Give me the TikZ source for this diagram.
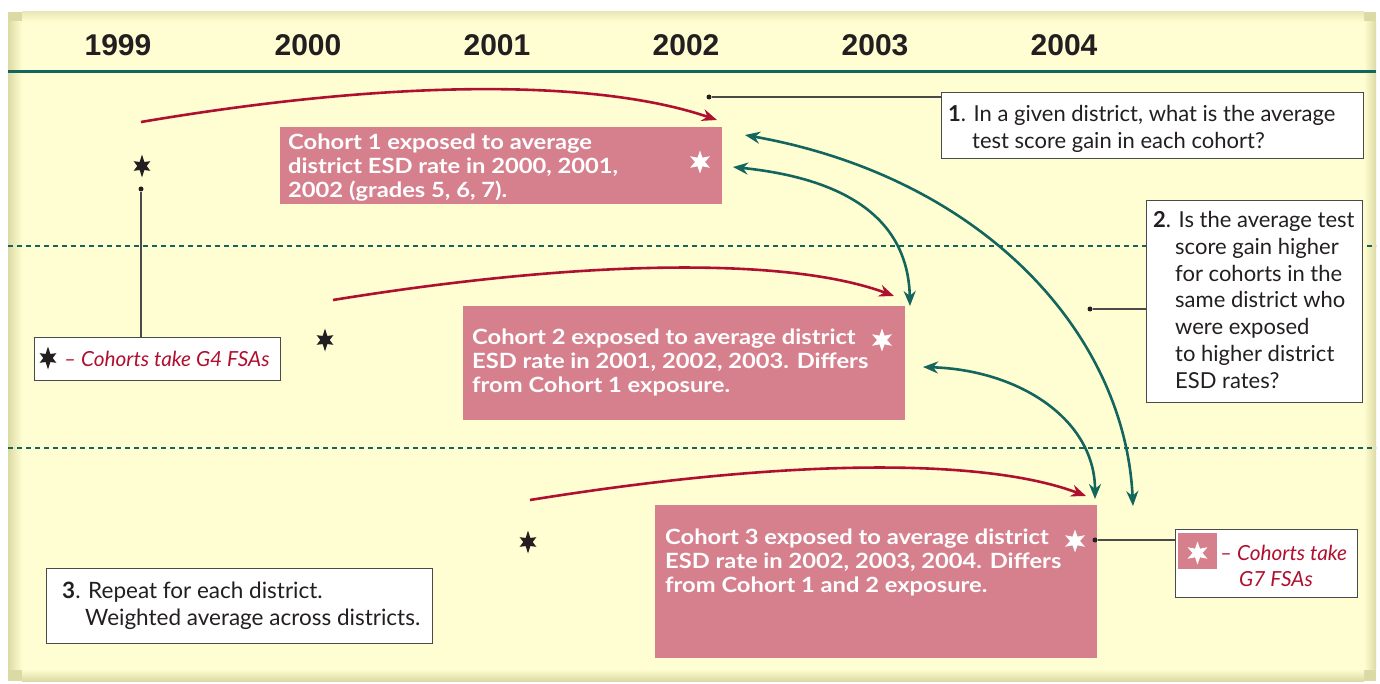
\documentclass[tikz,border=0pt]{standalone}
\usepackage{fontspec}
\setmainfont{Lato}
\newfontfamily\yearfont{Liberation Sans}
\newfontfamily\cohortfont{Lato}[FakeStretch=1.13]
\usetikzlibrary{arrows.meta,calc}
\definecolor{paper}{HTML}{FFFED2}
\definecolor{bevel}{HTML}{DCDAA4}
\definecolor{tealc}{HTML}{13655D}
\definecolor{redc}{HTML}{B01030}
\definecolor{pinkc}{HTML}{D6808E}
\definecolor{inkc}{HTML}{231F20}
\definecolor{framec}{HTML}{4A4A4A}
\tikzset{
  bstar/.pic={\fill[inkc] (90:11.5) -- (60:4.7) -- (30:9.6) -- (0:4.7) -- (-30:9.6) -- (-60:4.7) -- (-90:11.5) -- (-120:4.7) -- (-150:9.6) -- (180:4.7) -- (150:9.6) -- (120:4.7) -- cycle;},
  wstar/.pic={\fill[white] (90:11.5) -- (60:5) -- (30:11.5) -- (0:5) -- (-30:11.5) -- (-60:5) -- (-90:11.5) -- (-120:5) -- (-150:11.5) -- (180:5) -- (150:11.5) -- (120:5) -- cycle;},
  yearlbl/.style={inner sep=0pt, font=\yearfont\bfseries\fontsize{30}{30}\selectfont, text=inkc},
  cbox/.style={fill=pinkc, inner sep=0pt, anchor=north west},
  ctext/.style={inner sep=0pt, anchor=north west, align=left, text=white, font=\cohortfont\bfseries\fontsize{21}{24}\selectfont},
  qbox/.style={fill=white, draw=framec, line width=1.2pt, inner sep=0pt, anchor=north west},
  qtext/.style={inner sep=0pt, anchor=north west, align=left, text=inkc, font=\fontsize{22}{26.8}\selectfont},
  legtext/.style={inner sep=0pt, align=left, text=redc, font=\itshape\fontsize{20.8}{26}\selectfont},
  dotc/.style={circle, fill=inkc, minimum size=5pt, inner sep=0pt},
  leader/.style={draw=framec, line width=1.3pt},
  redarrow/.style={draw=redc, line width=2.6pt, -{Stealth[length=15pt,width=12pt]}},
  tealarrow/.style={draw=tealc, line width=2.6pt, {Stealth[length=15pt,width=12pt]}-{Stealth[length=15pt,width=12pt]}},
}
\begin{document}
\begin{tikzpicture}[x=1pt,y=-1pt]
\useasboundingbox (0,0) rectangle (1380,684);
\fill[white] (0,0) rectangle (1380,684);
% panel with bevel
\fill[bevel] (8,12) rectangle (1376,681);
\fill[paper] (22,22) rectangle (1364,669);
\shade[left color=bevel, right color=paper] (8,22) rectangle (22,669);
\shade[left color=paper, right color=bevel] (1364,22) rectangle (1376,669);
\shade[top color=bevel!60!paper, bottom color=paper] (22,12) rectangle (1364,22);
\shade[top color=paper, bottom color=bevel] (22,669) rectangle (1364,681);
% header
\draw[tealc, line width=3pt] (8,72) -- (1376,72);
\draw[tealc, line width=1.1pt, dash pattern=on 5pt off 4pt] (8,246) -- (1376,246);
\draw[tealc, line width=1.1pt, dash pattern=on 5pt off 4pt] (8,448) -- (1376,448);
\node[yearlbl] (y1999) at (118,45) {1999};
\node[yearlbl] (y2000) at (308,45) {2000};
\node[yearlbl] (y2001) at (497,45) {2001};
\node[yearlbl] (y2002) at (686,45) {2002};
\node[yearlbl] (y2003) at (875,45) {2003};
\node[yearlbl] (y2004) at (1064,45) {2004};
% cohort boxes
\node[cbox, minimum width=442pt, minimum height=77pt] (c1) at (280,127) {};
\node[ctext] (c1t) at (288,134) {Cohort 1 exposed to average\\district ESD rate in 2000, 2001,\\2002 (grades 5, 6, 7).};
\node[cbox, minimum width=442pt, minimum height=114pt] (c2) at (463,306) {};
\node[ctext] (c2t) at (472,329) {Cohort 2 exposed to average district\\ESD rate in 2001, 2002, 2003. Differs\\from Cohort 1 exposure.};
\node[cbox, minimum width=442pt, minimum height=153pt] (c3) at (655,505) {};
\node[ctext] (c3t) at (665,529) {Cohort 3 exposed to average district\\ESD rate in 2002, 2003, 2004. Differs\\from Cohort 1 and 2 exposure.};
\pic (w1) at (700,162) {wstar};
\pic (w2) at (882,340) {wstar};
\pic (w3) at (1075,541) {wstar};
% black stars
\pic (b1) at (142,166) {bstar};
\pic (b2) at (325,340) {bstar};
\pic (b3) at (528,542) {bstar};
% legend G4
\node[qbox, minimum width=246pt, minimum height=43pt] (g4) at (34,337) {};
\pic (g4s) at (48,358) {bstar};
\node[legtext, anchor=west] (g4t) at (64,359) {-- Cohorts take G4 FSAs};
\node[dotc] (d1) at (141,189) {};
\draw[leader] (d1) -- (d1 |- g4.north);
% legend G7
\node[qbox, minimum width=182pt, minimum height=68pt] (g7) at (1175,529) {};
\node[cbox, minimum width=39pt, minimum height=36pt] (g7sq) at (1178,533) {};
\pic (g7s) at (1197.5,553) {wstar};
\node[legtext, anchor=north west] (g7t) at (1220,545) {-- Cohorts take\\\hspace*{19pt}G7 FSAs};
\node[dotc] (d4) at (1095,540) {};
\draw[leader] (d4) -- (d4 -| g7.west);
% question boxes
\node[qbox, minimum width=422pt, minimum height=66pt] (q1) at (941,92) {};
\node[qtext] (q1t) at (948,105) {\textbf{1}. In a given district, what is the average\\\hspace*{24pt}test score gain in each cohort?};
\node[dotc] (d2) at (709,97) {};
\draw[leader] (d2) -- (d2 -| q1.west);
\node[qbox, minimum width=216pt, minimum height=202pt] (q2) at (1146,200) {};
\node[qtext] (q2t) at (1153,211) {\textbf{2}. Is the average test\\\hspace*{22pt}score gain higher\\\hspace*{22pt}for cohorts in the\\\hspace*{22pt}same district who\\\hspace*{22pt}were exposed\\\hspace*{22pt}to higher district\\\hspace*{22pt}ESD rates?};
\node[dotc] (d3) at (1090,309) {};
\draw[leader] (d3) -- (d3 -| q2.west);
\node[qbox, minimum width=386pt, minimum height=75pt] (q3) at (46,568) {};
\node[qtext, font=\fontsize{22.5}{26.8}\selectfont] (q3t) at (62,582) {\textbf{3}. Repeat for each district.\\\hspace*{23pt}Weighted average across districts.};
% red arrows
\coordinate (r1s) at (141,122); \coordinate (r1e) at (717,120);
\coordinate (r2s) at (333,300); \coordinate (r2e) at (894,296);
\coordinate (r3s) at (530,500); \coordinate (r3e) at (1086,496);
\draw[redarrow] (r1s) .. controls (400,78) and (600,80) .. (r1e);
\draw[redarrow] (r2s) .. controls (592,258) and (792,258) .. (r2e);
\draw[redarrow] (r3s) .. controls (790,458) and (985,458) .. (r3e);
% teal arrows
\coordinate (t1a) at (745,135); \coordinate (t1b) at (1133,506);
\coordinate (t2a) at (733,167); \coordinate (t2b) at (910,306);
\coordinate (t3a) at (923,367); \coordinate (t3b) at (1095,499);
\draw[tealarrow] (t1a) .. controls (985,178) and (1125,335) .. (t1b);
\draw[tealarrow] (t2a) .. controls (840,178) and (908,215) .. (t2b);
\draw[tealarrow] (t3a) .. controls (1020,370) and (1095,420) .. (t3b);
\end{tikzpicture}
\end{document}
